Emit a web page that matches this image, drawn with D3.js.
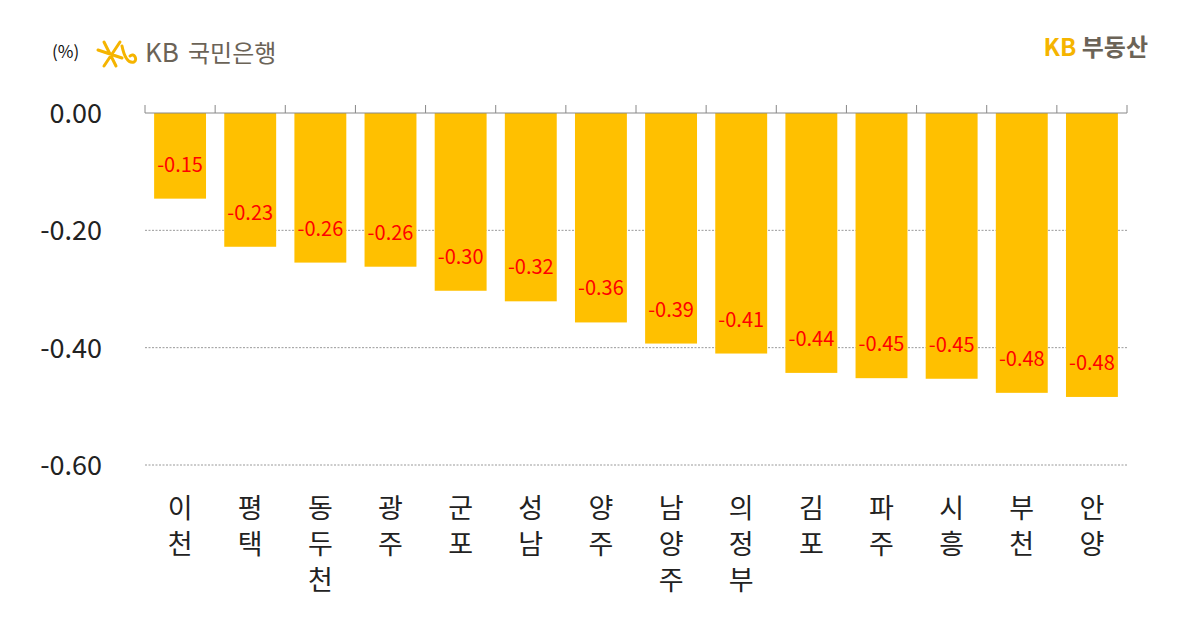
<!DOCTYPE html>
<html><head><meta charset="utf-8">
<script src="https://cdn.jsdelivr.net/npm/d3@7"></script>
<style>body{margin:0;background:#fff}text{font-family:"Noto Sans CJK KR","Noto Sans",sans-serif}</style>
</head><body><svg id="c" width="1200" height="641"></svg>
<script>
const regions = ["이천","평택","동두천","광주","군포","성남","양주","남양주","의정부","김포","파주","시흥","부천","안양"];
const values = [-0.146,-0.228,-0.255,-0.262,-0.303,-0.321,-0.357,-0.393,-0.41,-0.443,-0.452,-0.453,-0.477,-0.484];
const labels = ["-0.15","-0.23","-0.26","-0.26","-0.30","-0.32","-0.36","-0.39","-0.41","-0.44","-0.45","-0.45","-0.48","-0.48"];
const yTicks = [0,-0.2,-0.4,-0.6];

const svg = d3.select("#c");
const x = d3.scaleBand().domain(regions).range([145,1127]).paddingInner(0.26).paddingOuter(0.13);
const y = d3.scaleLinear().domain([0,-0.6]).range([113,465]);

svg.selectAll(".grid").data(yTicks.slice(1)).join("line")
  .attr("x1",145).attr("x2",1127).attr("y1",d=>y(d)).attr("y2",d=>y(d))
  .attr("stroke","#999").attr("stroke-dasharray","2,1.5").attr("stroke-width",1);

svg.selectAll(".ytick").data(yTicks).join("text")
  .attr("x",102).attr("y",d=>y(d)+10).attr("text-anchor","end")
  .attr("font-size",27).attr("fill","#222").attr("font-family","Open Sans")
  .text(d=>d3.format(".2f")(d).replace("\u2212","-"));

svg.selectAll("rect").data(values).join("rect")
  .attr("x",(d,i)=>x(regions[i])).attr("width",x.bandwidth())
  .attr("y",y(0)).attr("height",d=>y(d)-y(0)).attr("fill","#FFC000");

const left = 145, w = 982/regions.length;
svg.append("line").attr("x1",145).attr("x2",1127).attr("y1",113).attr("y2",113).attr("stroke","#888");
svg.selectAll(".tk").data(d3.range(regions.length+1)).join("line")
  .attr("x1",i=>left+i*w).attr("x2",i=>left+i*w)
  .attr("y1",105).attr("y2",113).attr("stroke","#888");

svg.selectAll(".lbl").data(values).join("text")
  .attr("x",(d,i)=>x(regions[i])+x.bandwidth()/2).attr("y",d=>y(d)-27)
  .attr("text-anchor","middle").attr("font-size",20).attr("fill","#FF0000")
  .attr("font-family","Open Sans").text((d,i)=>labels[i]);

regions.forEach(r=>{
  [...r].forEach((ch,j)=>svg.append("text").attr("text-anchor","middle").attr("font-size",27).attr("fill","#222")
    .attr("x",x(r)+x.bandwidth()/2).attr("y",518+j*36).text(ch));
});

svg.append("text").attr("x",52).attr("y",58).attr("font-size",17).attr("fill","#111").text("(%)");
const g = svg.append("g").attr("stroke","#F5B400").attr("stroke-width",3).attr("fill","none").attr("stroke-linecap","round");
g.append("path").attr("d","M98,50 L122,58 M104,42 L116,66 M120,42 L104,66 M122,46 C124,56 128,64 134,62 C138,60 134,52 130,56");
svg.append("text").attr("x",145).attr("y",62).attr("font-size",26).attr("fill","#6b6357").attr("font-family","Open Sans").text("KB");
svg.append("text").attr("x",188).attr("y",62).attr("font-size",24).attr("fill","#6b6357").text("국민은행");
svg.append("text").attr("x",1148).attr("y",56).attr("text-anchor","end").attr("font-size",24).attr("font-weight","bold").attr("fill","#F5B400")
  .text("KB ").append("tspan").attr("fill","#6b6357").text("부동산");
</script></body></html>
